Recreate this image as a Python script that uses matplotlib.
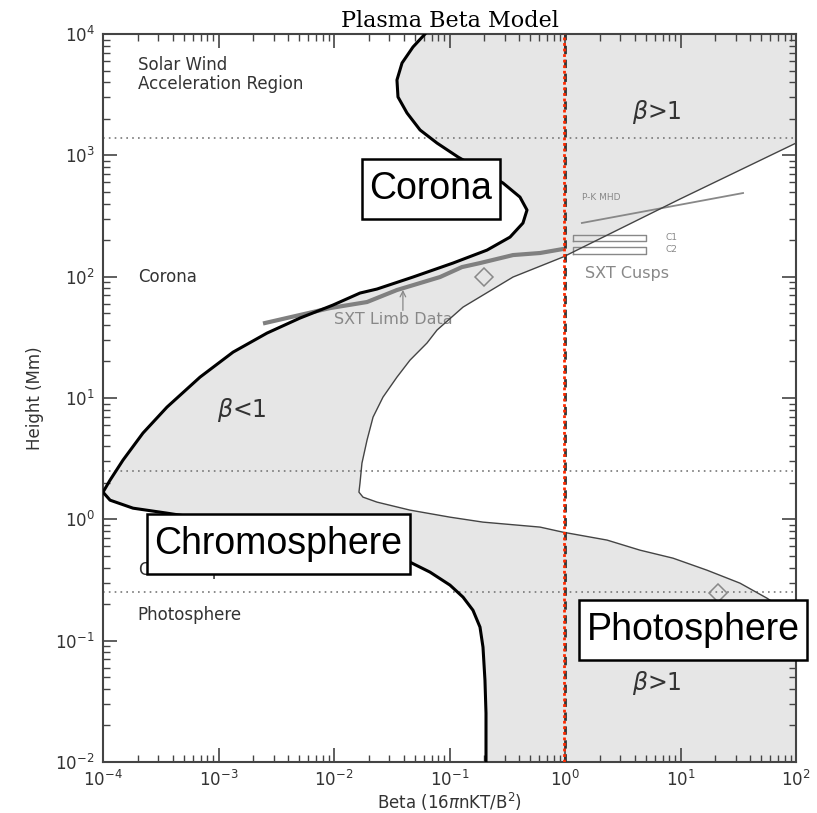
import numpy as np
import matplotlib
matplotlib.use("Agg")
import matplotlib.pyplot as plt


# values as log10 exponents (log10 beta, log10 height in Mm)

# lower beta boundary (thick black), top to bottom
thick_lbeta = [-1.212, -1.316, -1.411, -1.455, -1.446, -1.368, -1.255, -1.108, -0.926,
               -0.537, -0.390, -0.329, -0.364, -0.476, -0.675, -0.970, -1.316, -1.628,
               -1.775, -2.009, -2.294, -2.580, -2.874, -3.160, -3.446, -3.654, -3.827,
               -3.939, -4.000, -3.939, -3.740, -3.446, -3.221, -2.641, -2.035, -1.602,
               -1.342, -1.169, -0.996, -0.883, -0.797, -0.736, -0.710, -0.693, -0.684,
               -0.684]
thick_lheight = [4.000, 3.893, 3.761, 3.621, 3.481, 3.349, 3.209, 3.101, 2.986,
                 2.772, 2.656, 2.549, 2.442, 2.326, 2.219, 2.112, 1.997, 1.898,
                 1.865, 1.766, 1.659, 1.535, 1.378, 1.172, 0.925, 0.711, 0.488,
                 0.323, 0.224, 0.158, 0.092, 0.051, 0.018, -0.064, -0.180, -0.279,
                 -0.353, -0.435, -0.542, -0.641, -0.749, -0.888, -1.054, -1.326, -1.598,
                 -2.000]

# upper beta boundary (thin line), top-right to bottom-right
thin_lbeta = [2.000, 0.996, -0.017, -0.450, -0.883, -1.108, -1.195, -1.342, -1.455,
              -1.576, -1.662, -1.714, -1.758, -1.775, -1.784, -1.749, -1.628, -1.342,
              -0.996, -0.710, -0.216, -0.017, 0.364, 0.649, 0.935, 1.229, 1.515,
              1.749, 1.905, 2.000]
thin_lheight = [3.101, 2.640, 2.162, 1.997, 1.749, 1.560, 1.453, 1.312, 1.172,
                1.007, 0.842, 0.653, 0.463, 0.298, 0.224, 0.183, 0.142, 0.076,
                0.018, -0.023, -0.064, -0.106, -0.171, -0.254, -0.320, -0.419, -0.526,
                -0.650, -0.749, -0.847]

# SXT limb data
limb_lbeta = [-2.597, -2.035, -1.714, -1.455, -1.082, -0.892, -0.736, -0.450, -0.216, -0.017]
limb_lheight = [1.618, 1.741, 1.791, 1.890, 1.997, 2.079, 2.112, 2.178, 2.195, 2.228]

# P-K MHD
pk_beta = [1.40, 34.8]
pk_height = [277, 489]

# SXT cusps
cusp_beta = [1.17, 5.02]
cusp_c1 = [196, 220]
cusp_c2 = [153, 175]

# diamonds
dia_beta = [0.199, 21.1]
dia_height = [100, 0.247]

# region boundaries
bound_heights = [1400, 2.5, 0.25]

thick_beta = list(10 ** np.array(thick_lbeta))
thick_height = list(10 ** np.array(thick_lheight))
thin_beta = list(10 ** np.array(thin_lbeta))
thin_height = list(10 ** np.array(thin_lheight))
limb_beta = 10 ** np.array(limb_lbeta)
limb_height = 10 ** np.array(limb_lheight)

fig = plt.figure(figsize=(8.17, 8.13), dpi=100)
ax = fig.add_axes([103 / 817, 1 - 762 / 813, 693 / 817, 728 / 813])
ax.set_xscale("log")
ax.set_yscale("log")
ax.set_xlim(1e-4, 1e2)
ax.set_ylim(1e-2, 1e4)

# gray band between the two boundaries
poly_x = thick_beta + [100] + thin_beta[::-1] + [100]
poly_y = thick_height + [0.01] + thin_height[::-1] + [1e4]
ax.fill(poly_x, poly_y, color="#e6e6e6", lw=0, zorder=1)

ax.plot(thick_beta, thick_height, color="black", lw=2.2, zorder=4,
        solid_joinstyle="round")
ax.plot(thin_beta, thin_height, color="#444444", lw=1.0, zorder=4)

for h in bound_heights:
    ax.axhline(h, color="#777777", lw=1.2, ls=(0, (1, 2.5)), zorder=2)

ax.plot(limb_beta, limb_height, color="#808080", lw=3, zorder=3)
ax.plot(pk_beta, pk_height, color="#888888", lw=1.3, zorder=3)
for yy in (cusp_c1, cusp_c2):
    ax.plot([cusp_beta[0], cusp_beta[1], cusp_beta[1], cusp_beta[0], cusp_beta[0]],
            [yy[0], yy[0], yy[1], yy[1], yy[0]], color="#888888", lw=1, zorder=3)
ax.plot(dia_beta, dia_height, ls="none", marker="D", ms=9, mfc="none",
        mec="#888888", mew=1.1, zorder=3)

ax.axvline(1.0, color="#333333", lw=2, ls=(0, (3, 2)), zorder=5)
ax.axvline(0.975, color="#ff2a00", lw=2, ls=(0, (1, 1)), zorder=6)

ax.annotate("", xy=(0.0395, 82), xytext=(0.0395, 50),
            arrowprops=dict(arrowstyle="->", color="#888888", lw=0.9), zorder=3)

gray = "#888888"
dark = "#333333"
ax.text(2e-4, 4640, "Solar Wind\nAcceleration Region", fontsize=12, color=dark,
        va="center", linespacing=1.1)
ax.text(2e-4, 99, "Corona", fontsize=12, color=dark, va="center")
ax.text(2e-4, 0.38, "Chromosphere", fontsize=12, color=dark, va="center", zorder=2)
ax.text(2e-4, 0.163, "Photosphere", fontsize=12, color=dark, va="center")
ax.text(0.0324, 44, "SXT Limb Data", fontsize=11.5, color=gray, ha="center", va="center")
ax.text(3.44, 107, "SXT Cusps", fontsize=11.5, color=gray, ha="center", va="center")
ax.text(1.40, 445, "P-K MHD", fontsize=6.5, color=gray, va="center")
ax.text(7.35, 212, "C1", fontsize=6.5, color=gray, va="center")
ax.text(7.35, 166, "C2", fontsize=6.5, color=gray, va="center")

ax.text(1.6e-3, 7.94, r"$\beta$<1", fontsize=17, color=dark, ha="center", va="center")
ax.text(6.27, 2275, r"$\beta$>1", fontsize=17, color=dark, ha="center", va="center")
ax.text(6.27, 0.0447, r"$\beta$>1", fontsize=17, color=dark, ha="center", va="center")

box = dict(boxstyle="square,pad=0.2", fc="white", ec="black", lw=1.8,
           mutation_aspect=1.6)
ax.text(0.0692, 532, "Corona", fontsize=27, family="Liberation Sans",
        ha="center", va="center", bbox=box, zorder=10)
ax.text(0.00331, 0.625, "Chromosphere", fontsize=27, family="Liberation Sans",
        ha="center", va="center", bbox=box, zorder=10)
ax.text(12.8, 0.123, "Photosphere", fontsize=27, family="Liberation Sans",
        ha="center", va="center", bbox=box, zorder=10, clip_on=False)

ax.set_title("Plasma Beta Model", family="DejaVu Serif", fontsize=16, pad=5)
ax.set_xlabel(r"Beta (16$\pi$nKT/B$^2$)", fontsize=12, color=dark)
ax.xaxis.set_label_coords(0.5, -0.040)
ax.set_ylabel("Height (Mm)", fontsize=12, color=dark)
ax.yaxis.set_label_coords(-0.085, 0.5)

ax.tick_params(which="both", direction="in", top=True, right=True,
               colors="#444444", labelcolor=dark, labelsize=12)
ax.tick_params(which="major", length=10, width=1.2, pad=6)
ax.tick_params(which="minor", length=5, width=1.0)
for s in ax.spines.values():
    s.set_color("#444444")
    s.set_linewidth(1.5)

fig.savefig("out.png", dpi=100)
